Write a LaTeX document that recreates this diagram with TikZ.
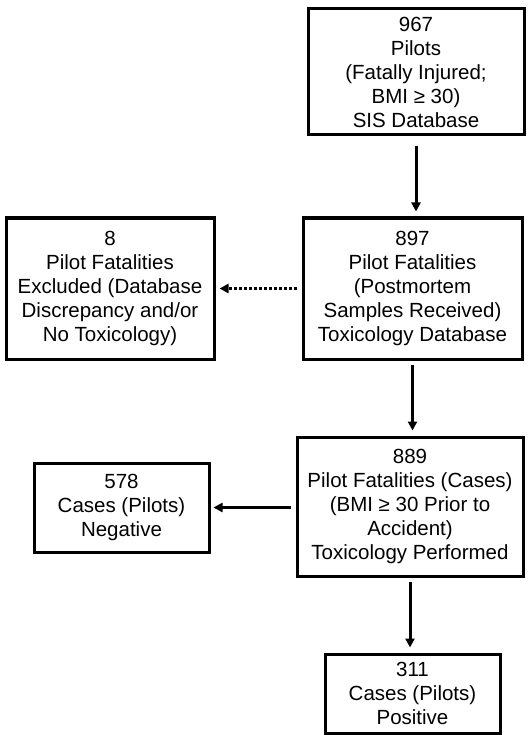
\documentclass[tikz,border=0pt]{standalone}
\usepackage{fontspec}
\setmainfont{Liberation Sans}
\usetikzlibrary{arrows.meta}
\begin{document}
\begin{tikzpicture}[x=1pt,y=1pt,
  box/.style={draw, line width=3pt, align=center, inner sep=0pt,
    font=\fontsize{20.5}{24}\selectfont},
  arr/.style={line width=3pt, -{Triangle[length=9pt,width=9pt]}},
  dotarr/.style={line width=3pt, dash pattern=on 3pt off 2pt, -{Triangle[length=9pt,width=9pt]}}]
\useasboundingbox (0,0) rectangle (530,-735);
\node[box, minimum width=216pt, minimum height=126pt] (b1) at (416,-72)
  {967\\Pilots\\(Fatally Injured;\\BMI ≥ 30)\\SIS Database};
\node[box, minimum width=219pt, minimum height=141pt] (b2) at (412.5,-288.5)
  {897\\Pilot Fatalities\\(Postmortem\\Samples Received)\\Toxicology Database};
\node[box, minimum width=208pt, minimum height=141pt] (b8) at (110,-288.5)
  {8\\Pilot Fatalities\\Excluded (Database\\Discrepancy and/or\\No Toxicology)};
\node[box, minimum width=226pt, minimum height=139pt] (b3) at (410,-506.5)
  {889\\Pilot Fatalities (Cases)\\(BMI ≥ 30 Prior to\\Accident)\\Toxicology Performed};
\node[box, minimum width=175pt, minimum height=89pt] (b4) at (121.5,-507.5)
  {578\\Cases (Pilots)\\Negative};
\node[box, minimum width=175pt, minimum height=79pt] (b5) at (412.5,-693.5)
  {311\\Cases (Pilots)\\Positive};
\draw[arr, shorten <=10pt, shorten >=5pt] (b1.south) -- (b1.south |- b2.north);
\draw[dotarr, shorten <=5pt, shorten >=4pt] (b2.west) -- (b8.east);
\draw[arr, shorten <=4pt, shorten >=5pt] (b2.south) -- (b2.south |- b3.north);
\draw[arr, shorten <=5pt, shorten >=3pt] (b3.west |- b4.east) -- (b4.east);
\draw[arr, shorten <=4pt, shorten >=5pt] (b3.south) -- (b3.south |- b5.north);
\end{tikzpicture}
\end{document}
